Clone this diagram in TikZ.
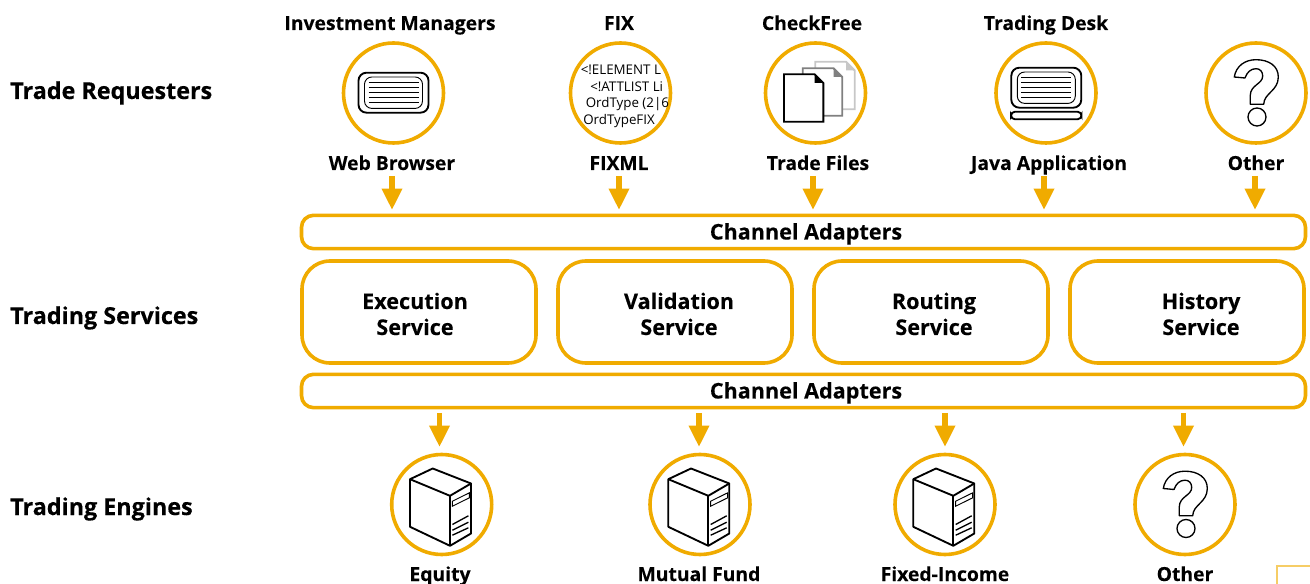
\documentclass[tikz,border=0pt]{standalone}
\usepackage{fontspec}
\setmainfont{Open Sans}
\newfontfamily\heavyfont{Open Sans}[BoldFeatures={FakeBold=0.35}]
\newfontfamily\thickfont{Open Sans}[BoldFeatures={FakeBold=0.15}]
\usetikzlibrary{arrows.meta}
\definecolor{gold}{HTML}{F0AB00}
\tikzset{
	ring/.style={circle,draw=gold,line width=2.7pt,minimum size=75pt,inner sep=0pt},
	service/.style={draw=gold,line width=2.7pt,rounded corners=21pt,minimum width=175.5pt,minimum height=76.5pt,inner sep=0pt},
	adapter/.style={draw=gold,line width=2.7pt,rounded corners=9pt,minimum width=753pt,minimum height=25pt,inner sep=0pt},
	svctext/.style={inner sep=0pt,anchor=base,font=\svcfont},
	caption/.style={inner sep=0pt,anchor=base,font=\capfont},
	tier/.style={inner sep=0pt,anchor=base west,font=\tierfont},
	xmlline/.style={inner sep=0pt,anchor=west,font=\xmlfont},
	flow/.style={gold,line width=4pt,-{Triangle[width=14.5pt,length=16pt]}},
	pics/screen/.style={code={
		\draw [line width=1.4pt,rounded corners=6pt] (-35,-20) rectangle (35,20);
		\draw [line width=0.7pt,rounded corners=5.5pt] (-29,-15.7) rectangle (29,15.7);
		\foreach \y in {-10,-5,0,5,10}
			\draw [line width=0.9pt] (-25,\y)--(25,\y);
	}},
	pics/server/.style={code={
		\draw [line width=1.4pt,line join=round] (-9,-36)--(-31.7,-25.3)--(-31.7,22.3)--(8.3,41.3)--(29.3,29)--(29.3,-21)--cycle;
		\draw [line width=1.4pt,line join=round] (-31.7,-25.3)--(8.3,-8.7)--(29.3,-21);
		\draw [line width=1.4pt] (8.3,-8.7)--(8.3,41.3);
		\draw [line width=0.7pt] (10.7,-3.3)--(27.7,-11.7)--(27.7,-6.7)--(10.7,1.7)--cycle;
		\draw [line width=1pt] (10.7,20)--(26.7,11.3);
		\draw [line width=1pt] (10.7,25.7)--(26.7,17.7);
		\draw [line width=1pt] (10.7,30.7)--(26.7,23.3);
	}},
	pics/unknown/.style={code={
		\draw [line width=1pt,line join=round] (-21.7,-16) .. controls (-20,-27) and (-11,-33.3) .. (0,-33.3)
			.. controls (13,-33.3) and (22.3,-27) .. (22.3,-16)
			.. controls (22.3,-2) and (8,0) .. (7.7,11.3)
			-- (-5.7,11.3) -- (-5.7,2.3)
			.. controls (-5.7,-8) and (6.7,-9) .. (6.7,-17)
			.. controls (6.7,-21.5) and (4,-24.3) .. (0,-24.3)
			.. controls (-5,-24.3) and (-9,-21) .. (-11,-15) -- cycle;
		\draw [line width=1pt] (1,24) circle [radius=9];
	}},
	pics/page/.style={code={
		\draw [fill=white,line width=1.4pt,line join=miter] (-19.7,-23.7)--(11,-23.7)--(19.7,-15)--(19.7,23.7)--(-19.7,23.7)--cycle;
		\fill (11,-23.7)--(19.7,-15)--(11,-15)--cycle;
	}}
}
\newcommand{\capfont}{\thickfont\fontsize{14.5pt}{16pt}\selectfont\bfseries}
\newcommand{\tierfont}{\heavyfont\fontsize{17.5pt}{18pt}\selectfont\bfseries}
\newcommand{\svcfont}{\thickfont\fontsize{16.2pt}{19.5pt}\selectfont\bfseries}
\newcommand{\xmlfont}{\fontsize{10pt}{13pt}\selectfont}
\begin{document}
\begin{tikzpicture}[x=0.75pt,y=-0.75pt]
	\useasboundingbox (0,0) rectangle (1310,584);

	% row labels
	\node [tier] (requesters) at (10,99) {Trade Requesters};
	\node [tier] (services) at (10,324) {Trading Services};
	\node [tier] (engines) at (10,515) {Trading Engines};

	% requesters
	\node [ring] (webRing) at (393.5,93) {};
	\node [ring] (fixRing) at (620.5,93) {};
	\node [ring] (filesRing) at (815.5,93) {};
	\node [ring] (javaRing) at (1046,93) {};
	\node [ring] (otherRing) at (1256,93) {};

	\node [caption] (invest) at (390,30) {Investment Managers};
	\node [caption] (fix) at (619,30) {FIX};
	\node [caption] (check) at (812,30) {CheckFree};
	\node [caption] (desk) at (1046,30) {Trading Desk};
	\node [caption] (web) at (392,170) {Web Browser};
	\node [caption] (fixml) at (619,170) {FIXML};
	\node [caption] (files) at (818,170) {Trade Files};
	\node [caption] (java) at (1049,170) {Java Application};
	\node [caption] (other) at (1256,170) {Other};

	\pic at (393.5,92.7) {screen};
	\pic at (1046.3,87.7) {screen};
	\draw [line width=1.4pt,rounded corners=3pt] (1011,111.7) rectangle (1081.5,119.3);
	\pic at (1256,93) {unknown};

	% file pages, back to front
	\pic [black!22] at (835,85.5) {page};
	\pic [black!50] at (822.5,92) {page};
	\pic at (803.7,98) {page};

	% xml text is cut by the ring
	\begin{scope}
		\clip (fixRing) circle [radius=50];
		\node [xmlline] (xmlA) at (580.5,69.5) {<!ELEMENT L};
		\node [xmlline] (xmlB) at (590,87) {<!ATTLIST Li};
		\node [xmlline] (xmlC) at (585.5,104.5) {OrdType (2|6};
		\node [xmlline] (xmlD) at (583,121.5) {OrdTypeFIX};
	\end{scope}

	% services
	\node [adapter] (adapterTop) at (803.5,232) {};
	\node [svctext] (adapterTopText) at (806,239.5) {Channel Adapters};
	\node [service] (execution) at (419,312) {};
	\node [service] (validation) at (675,312) {};
	\node [service] (routing) at (931,312) {};
	\node [service] (history) at (1187,312) {};
	\node [svctext] (executionA) at (415,309) {Execution};
	\node [svctext] (executionB) at (415,335) {Service};
	\node [svctext] (validationA) at (679,309) {Validation};
	\node [svctext] (validationB) at (679,335) {Service};
	\node [svctext] (routingA) at (934,309) {Routing};
	\node [svctext] (routingB) at (934,335) {Service};
	\node [svctext] (historyA) at (1201,309) {History};
	\node [svctext] (historyB) at (1201,335) {Service};
	\node [adapter] (adapterBottom) at (803.5,391) {};
	\node [svctext] (adapterBottomText) at (806,398.5) {Channel Adapters};

	% engines
	\node [ring] (equityRing) at (441.7,504.5) {};
	\node [ring] (mutualRing) at (700,504.5) {};
	\node [ring] (fixedRing) at (945,504.5) {};
	\node [ring] (otherEngineRing) at (1185,504.5) {};

	\pic at (441.7,504.5) {server};
	\pic at (700,504.5) {server};
	\pic at (945,504.5) {server};
	\pic at (1185,504.5) {unknown};

	\node [caption] (equity) at (440,581) {Equity};
	\node [caption] (mutual) at (699,581) {Mutual Fund};
	\node [caption] (fixed) at (945,581) {Fixed-Income};
	\node [caption] (otherEngine) at (1185,581) {Other};

	% arrows
	\foreach \x/\name in {392/a,619/b,813/c,1044/d,1255/e} {
		\coordinate (in\name) at (\x,176);
		\coordinate (to\name) at (\x,210);
		\draw [flow] (in\name)--(to\name);
	}
	\foreach \x/\name in {439.5/f,699/g,945/h,1183.5/i} {
		\coordinate (in\name) at (\x,413);
		\coordinate (to\name) at (\x,447);
		\draw [flow] (in\name)--(to\name);
	}

	% corner at the page edge
	\draw [gold!60,line width=1pt] (1277,584)--(1277,566)--(1310,566);
\end{tikzpicture}
\end{document}
